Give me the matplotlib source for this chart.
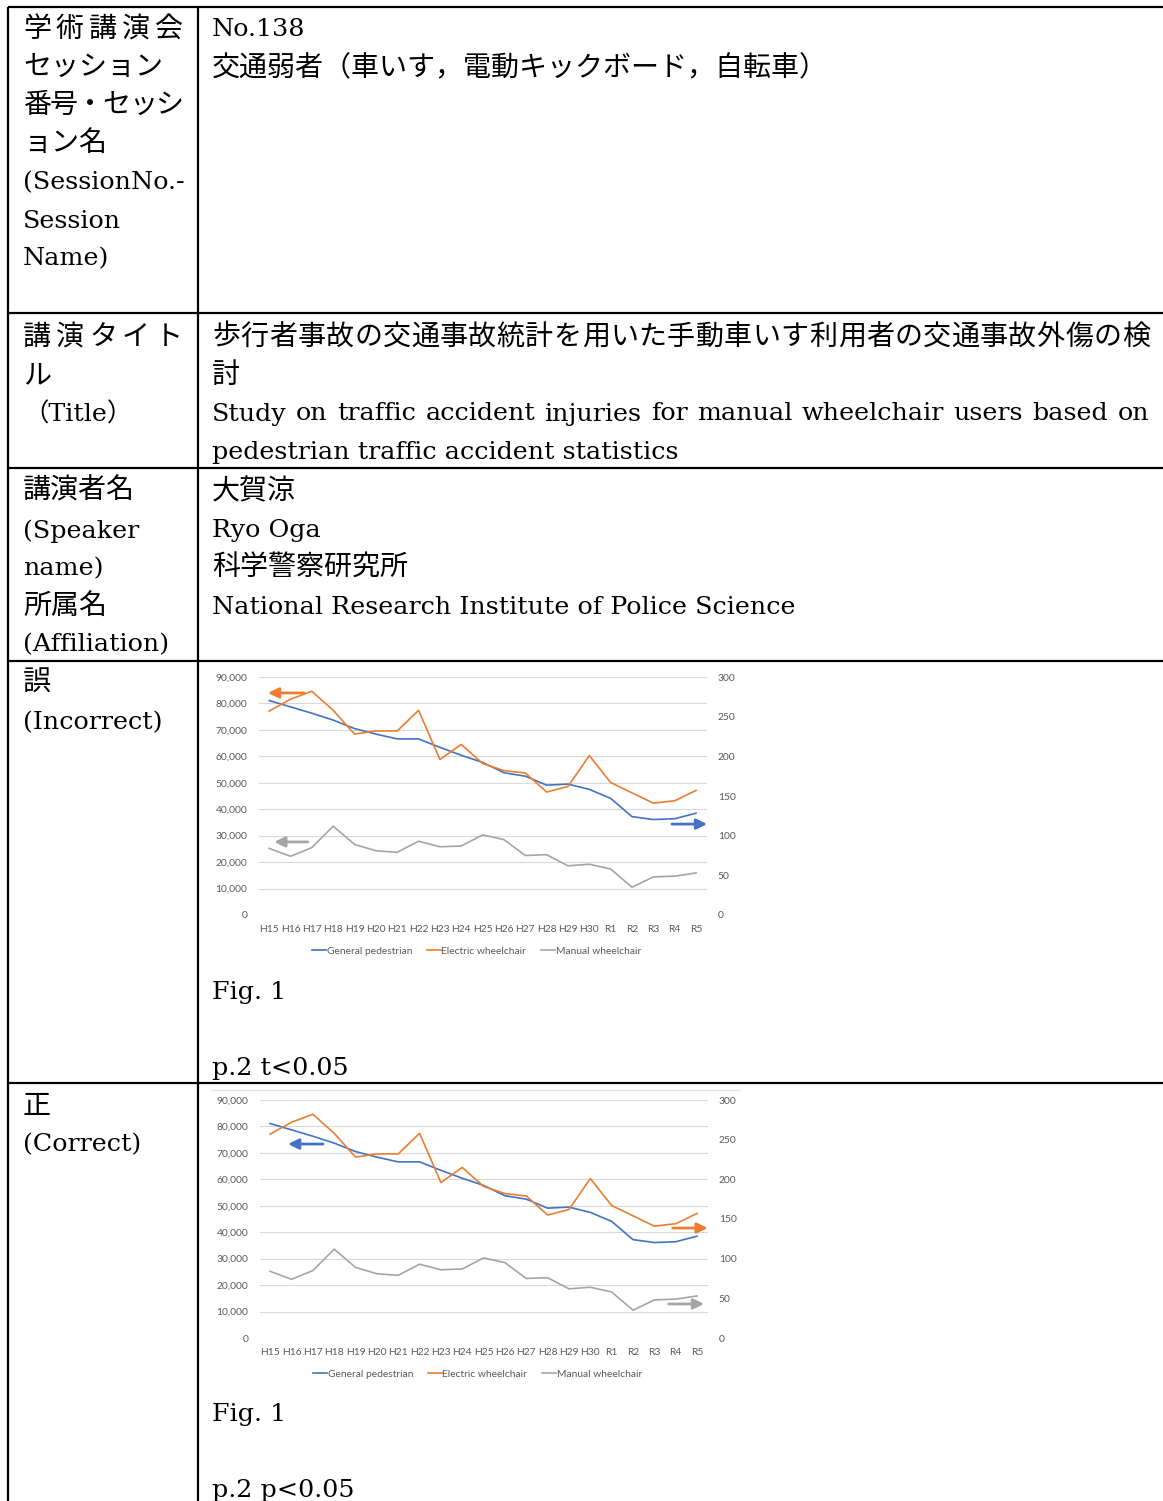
import numpy as np
import matplotlib.pyplot as plt
from matplotlib.ticker import FuncFormatter, MultipleLocator

# data (same chart is shown twice)
YEARS = ['H15', 'H16', 'H17', 'H18', 'H19', 'H20', 'H21', 'H22', 'H23', 'H24',
         'H25', 'H26', 'H27', 'H28', 'H29', 'H30', 'R1', 'R2', 'R3', 'R4', 'R5']
GENERAL_PEDESTRIAN = [81100, 78700, 76300, 73700, 70500, 68400, 66600, 66600, 63400,
                      60400, 57700, 53800, 52500, 49100, 49500, 47500, 44100, 37200,
                      36100, 36400, 38500]
ELECTRIC_WHEELCHAIR = [257, 272, 282, 258, 228, 232, 232, 258, 196, 215, 191,
                       182, 179, 155, 162, 201, 167, 154, 141, 144, 157]
MANUAL_WHEELCHAIR = [84, 74, 85, 112, 89, 81, 79, 93, 86, 87, 101,
                     95, 75, 76, 62, 64, 58, 35, 48, 49, 53]
SERIES_NAMES = ['General pedestrian', 'Electric wheelchair', 'Manual wheelchair']

BLUE, ORANGE, GRAY = '#4472C4', '#ED7D31', '#A5A5A5'

W, H = 1163, 1501
JP = ['Noto Sans CJK JP']
EN = ['DejaVu Serif', 'Noto Sans CJK JP']
FS_JP = 20.2
FS_EN = 18.3
CHART_FONT = ['Lato', 'DejaVu Sans']
CHART_FS = 7.4

fig = plt.figure(figsize=(W / 100, H / 100), dpi=100)
page = fig.add_axes([0, 0, 1, 1])
page.set_xlim(0, W)
page.set_ylim(H, 0)
page.axis('off')
renderer = fig.canvas.get_renderer()


def jp(x, y, s):
    page.text(x, y + 1, s, family=JP, fontsize=FS_JP, va='center', ha='left')


def en(x, y, s):
    page.text(x, y + 2, s, family=EN, fontsize=FS_EN, va='center', ha='left')


def spread(x0, x1, y, s):
    # spread CJK characters evenly between x0 and x1 (justified lines)
    w = FS_JP * 100 / 72
    step = (x1 - x0 - w) / (len(s) - 1)
    for i, ch in enumerate(s):
        page.text(x0 + w / 2 + i * step, y + 1, ch, family=JP, fontsize=FS_JP,
                  va='center', ha='center')


def justify(x0, x1, y, s):
    # justified latin line: widen the word gaps
    words = s.split()
    texts = [page.text(0, y + 2, w, family=EN, fontsize=FS_EN, va='center')
             for w in words]
    widths = [t.get_window_extent(renderer).width for t in texts]
    gap = (x1 - x0 - sum(widths)) / (len(words) - 1)
    x = x0
    for t, w in zip(texts, widths):
        t.set_x(x)
        x += w + gap


# table grid
for y in [7, 313, 468, 661, 1083]:
    page.plot([8, W], [y, y], color='black', lw=1.6, solid_capstyle='butt')
for x in [8, 198]:
    page.plot([x, x], [7, H], color='black', lw=1.6, solid_capstyle='butt')

# row 1
spread(23, 183, 28, '学術講演会')
jp(23, 66, 'セッション')
spread(23, 183, 104, '番号・セッシ')
jp(23, 142, 'ョン名')
en(23, 181, '(SessionNo.-')
en(23, 219, 'Session')
en(23, 257, 'Name)')
en(212, 28, 'No.138')
jp(212, 66, '交通弱者（車いす，電動キックボード，自転車）')

# row 2
spread(23, 183, 336, '講演タイト')
jp(23, 374, 'ル')
en(23, 412, '（Title）')
spread(212, 1150, 336, '歩行者事故の交通事故統計を用いた手動車いす利用者の交通事故外傷の検')
jp(212, 374, '討')
justify(212, 1149, 412, 'Study on traffic accident injuries for manual wheelchair users based on')
en(212, 451, 'pedestrian traffic accident statistics')

# row 3
jp(23, 490, '講演者名')
en(23, 529, '(Speaker')
en(23, 567, 'name)')
jp(23, 605, '所属名')
en(23, 643, '(Affiliation)')
jp(212, 490, '大賀涼')
en(212, 529, 'Ryo Oga')
jp(212, 567, '科学警察研究所')
en(212, 605, 'National Research Institute of Police Science')

# row 4 / row 5
jp(23, 682, '誤')
en(23, 721, '(Incorrect)')
en(212, 990, 'Fig. 1')
en(212, 1066, 'p.2 t<0.05')
jp(23, 1105, '正')
en(23, 1143, '(Correct)')
en(212, 1412, 'Fig. 1')
en(212, 1488, 'p.2 p<0.05')

# faint frame of the pasted chart image in the lower row
page.plot([211, 740], [1090, 1090], color='#E3E3E3', lw=1.0)


def draw_chart(left_px, top_px, arrows):
    ax = fig.add_axes([left_px / W, 1 - (top_px + 238) / H, 448.2 / W, 238 / H])
    ax2 = ax.twinx()
    x = np.arange(len(YEARS))
    l1, = ax.plot(x, GENERAL_PEDESTRIAN, color=BLUE, lw=1.2)
    l2, = ax2.plot(x, ELECTRIC_WHEELCHAIR, color=ORANGE, lw=1.2)
    l3, = ax2.plot(x, MANUAL_WHEELCHAIR, color=GRAY, lw=1.2)
    ax.set_xlim(-0.5, len(YEARS) - 0.5)
    ax.set_ylim(0, 90000)
    ax2.set_ylim(0, 300)
    ax.yaxis.set_major_locator(MultipleLocator(10000))
    ax.yaxis.set_major_formatter(FuncFormatter(lambda v, p: f'{int(v):,}'))
    ax2.yaxis.set_major_locator(MultipleLocator(50))
    ax.set_xticks(x)
    ax.set_xticklabels(YEARS)
    ax.grid(axis='y', color='#D9D9D9', lw=0.8)
    ax.set_axisbelow(True)
    for a in (ax, ax2):
        for sp in a.spines.values():
            sp.set_visible(False)
        a.tick_params(length=0, labelsize=CHART_FS, labelcolor='#595959')
        for lab in a.get_xticklabels() + a.get_yticklabels():
            lab.set_family(CHART_FONT)
    ax.tick_params(axis='y', pad=8)
    ax2.tick_params(axis='y', pad=8)
    ax.tick_params(axis='x', pad=7)
    leg = ax.legend([l1, l2, l3], SERIES_NAMES, loc='upper center',
                    bbox_to_anchor=(0.486, -0.095), ncol=3, frameon=False,
                    handlelength=1.4, handletextpad=0.05, columnspacing=1.4,
                    prop={'family': CHART_FONT, 'size': CHART_FS})
    for t in leg.get_texts():
        t.set_color('#595959')
    for color, (x0, x1, y) in arrows:
        ax.annotate('', xy=(x1, y), xytext=(x0, y), xycoords='axes fraction',
                    annotation_clip=False,
                    arrowprops=dict(arrowstyle='-|>,head_length=0.45,head_width=0.22',
                                    color=color, lw=2.0, mutation_scale=14,
                                    shrinkA=0, shrinkB=0))


# incorrect: arrows point the wrong way
draw_chart(258.5, 677, [(ORANGE, (0.1015, 0.021, 0.933)),
                        (GRAY, (0.110, 0.035, 0.307)),
                        (BLUE, (0.9225, 1.001, 0.382))])
# correct
draw_chart(259.5, 1100, [(BLUE, (0.1417, 0.0636, 0.815)),
                         (ORANGE, (0.922, 1.0, 0.462)),
                         (GRAY, (0.913, 0.992, 0.143))])

fig.savefig('out.png', dpi=100)
